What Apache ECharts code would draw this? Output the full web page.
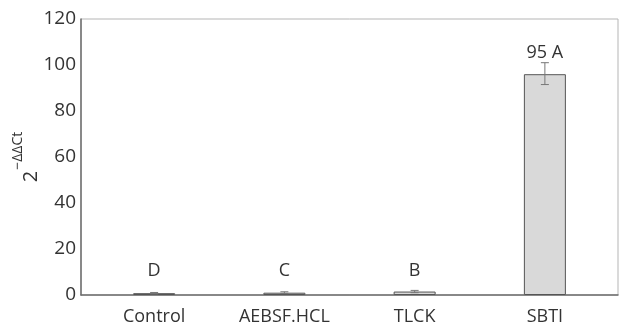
<!DOCTYPE html>
<html>
<head>
<meta charset="utf-8">
<script src="https://cdn.jsdelivr.net/npm/echarts@6/dist/echarts.min.js"></script>
<style>html,body{margin:0;padding:0;background:#fff}#c{width:620px;height:329px}</style>
</head>
<body>
<div id="c"></div>
<script>
const categories = ['Control', 'AEBSF.HCL', 'TLCK', 'SBTI'];
const values = [0.8, 1.0, 1.5, 96];
const errLow = [0.5, 0.6, 1.0, 91.5];
const errHigh = [1.1, 1.4, 2.0, 101];
const letters = ['D', 'C', 'B', '95 A'];
const yTicks = [0, 20, 40, 60, 80, 100, 120];

const FONT = 'Open Sans';
const chart = echarts.init(document.getElementById('c'));
chart.setOption({
  animation: false,
  backgroundColor: '#fff',
  grid: [
    { left: 89, right: 10, top: 19, bottom: 34, outerBoundsMode: 'none', containLabel: false },
    { left: 81, right: 2, top: 19, bottom: 34, outerBoundsMode: 'none', containLabel: false,
      show: true, borderColor: '#b5b5b5', borderWidth: 1, z: 0 }
  ],
  xAxis: [
    { type: 'category', gridIndex: 0, data: categories,
      axisLine: { show: false }, axisTick: { show: false },
      axisLabel: { color: '#333', fontSize: 18, fontFamily: FONT, margin: 13 } },
    { type: 'category', gridIndex: 1, data: categories,
      axisLine: { show: true, lineStyle: { color: '#6e6e6e', width: 1.5 } },
      axisTick: { show: false }, axisLabel: { show: false } }
  ],
  yAxis: [
    { type: 'value', gridIndex: 0, min: yTicks[0], max: yTicks[yTicks.length - 1], interval: 20, show: false },
    { type: 'value', gridIndex: 1, min: yTicks[0], max: yTicks[yTicks.length - 1], interval: 20,
      axisLine: { show: true, lineStyle: { color: '#6e6e6e', width: 1.5 } },
      axisTick: { show: false }, splitLine: { show: false },
      axisLabel: { color: '#333', fontSize: 19, fontFamily: FONT, margin: 5 },
      name: '{b|2}{s|\u2212\u0394\u0394Ct}', nameLocation: 'middle', nameRotate: 90, nameGap: 40,
      nameMoveOverlap: false,
      nameTextStyle: {
        rich: {
          b: { fontSize: 20, fontFamily: FONT, color: '#333', lineHeight: 30, verticalAlign: 'bottom' },
          s: { fontSize: 14, fontFamily: FONT, color: '#333', lineHeight: 30, verticalAlign: 'top', padding: [0, 0, 0, 1] }
        }
      }
    }
  ],
  series: [
    { type: 'bar', xAxisIndex: 0, yAxisIndex: 0, data: values, barWidth: 42,
      itemStyle: { color: '#d9d9d9', borderColor: '#555', borderWidth: 1 }, z: 2 },
    { type: 'custom', xAxisIndex: 0, yAxisIndex: 0, z: 3,
      data: categories.map((c, i) => [i, errLow[i], errHigh[i]]),
      renderItem: function (params, api) {
        const lo = api.coord([api.value(0), api.value(1)]);
        const hi = api.coord([api.value(0), api.value(2)]);
        const w = 4;
        const st = { stroke: '#777', lineWidth: 1, fill: null };
        return { type: 'group', children: [
          { type: 'line', shape: { x1: lo[0], y1: lo[1], x2: hi[0], y2: hi[1] }, style: st },
          { type: 'line', shape: { x1: lo[0] - w, y1: lo[1], x2: lo[0] + w, y2: lo[1] }, style: st },
          { type: 'line', shape: { x1: hi[0] - w, y1: hi[1], x2: hi[0] + w, y2: hi[1] }, style: st }
        ]};
      }
    },
    { type: 'custom', xAxisIndex: 0, yAxisIndex: 0, z: 4,
      data: categories.map((c, i) => [i, Math.max(errHigh[i], 6)]),
      renderItem: function (params, api) {
        const p = api.coord([api.value(0), api.value(1)]);
        return { type: 'text', x: p[0], y: p[1] - 10,
          style: { text: letters[params.dataIndex], fill: '#333', font: '18px "' + FONT + '"', align: 'center', verticalAlign: 'middle' } };
      }
    }
  ]
});
</script>
</body>
</html>
